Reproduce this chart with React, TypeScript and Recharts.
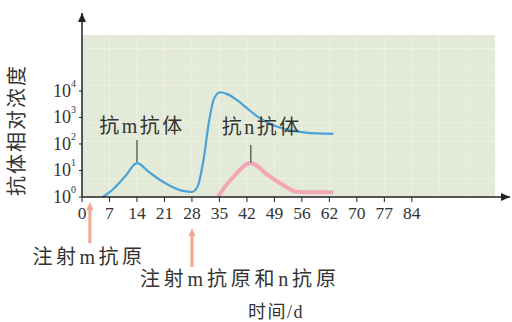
import React from 'react';
import {
  ComposedChart,
  Line,
  XAxis,
  YAxis,
  ReferenceArea,
  ReferenceLine,
  ReferenceDot,
} from 'recharts';

// ---- data ----
const xTicks = [0, 7, 14, 21, 28, 35, 42, 49, 56, 63, 70, 77, 84];
const xTickLabels = ['0', '7', '14', '21', '28', '35', '42', '49', '56', '62', '70', '77', '84'];
const yTicks = [0, 1, 2, 3, 4];
const yTickExponents = ['0', '1', '2', '3', '4'];

// anti-m antibody (log10 relative concentration)
const mDays = [5.3, 8, 11, 14, 17, 20, 23, 26, 28, 29.5, 31, 32.3, 33.6, 35.2, 37, 39.5, 42, 45, 48, 52, 57, 64];
const mLogConc = [0, 0.3, 0.78, 1.28, 0.95, 0.63, 0.38, 0.22, 0.19, 0.42, 1.45, 2.8, 3.7, 3.95, 3.88, 3.65, 3.35, 3.0, 2.75, 2.55, 2.43, 2.38];

// anti-n antibody
const nDays = [34.6, 36.2, 38.5, 43, 47, 51.2, 54.7, 59, 64];
const nLogConc = [0, 0.35, 0.75, 1.28, 0.86, 0.45, 0.2, 0.18, 0.18];

const gridDays = [7, 14, 21, 28, 35, 42, 49, 56, 63, 70, 77, 84, 91, 98];
const gridLevels = [0.7, 1.4, 2.1, 2.8, 3.5, 4.2, 4.9, 5.6];

const mData = mDays.map((d, i) => ({ day: d, v: mLogConc[i] }));
const nData = nDays.map((d, i) => ({ day: d, v: nLogConc[i] }));

// ---- layout constants ----
const X_MAX = 109;
const Y_MAX = 6.94;
const BG_X_MAX = 105.2;
const BG_Y_MAX = 6.11;

const TEXT = '#333333';
const FONT = "'Liberation Serif', 'Noto Sans CJK SC', serif";
const ARROW = '#f5a68e';

const textShape =
  (label: string, size: number, extra: Record<string, any> = {}) =>
  (props: any) => (
    <text
      x={props.cx}
      y={props.cy}
      textAnchor="middle"
      dominantBaseline="central"
      fontSize={size}
      fontFamily={FONT}
      fill={TEXT}
      {...extra}
    >
      {label}
    </text>
  );

const upArrowHead = (color: string, w = 4, h = 9) => (props: any) => (
  <polygon
    points={`${props.cx},${props.cy} ${props.cx - w},${props.cy + h} ${props.cx + w},${props.cy + h}`}
    fill={color}
  />
);

const rightArrowHead = (color: string) => (props: any) => (
  <polygon
    points={`${props.cx},${props.cy} ${props.cx - 9},${props.cy - 4} ${props.cx - 9},${props.cy + 4}`}
    fill={color}
  />
);

const YTick = (props: any) => {
  const { x, y, payload } = props;
  const idx = yTicks.indexOf(payload.value);
  return (
    <text x={x - 1} y={y + 6} textAnchor="end" fontFamily={FONT} fill={TEXT}>
      <tspan fontSize={18}>10</tspan>
      <tspan fontSize={10} dy={-10}>
        {yTickExponents[idx]}
      </tspan>
    </text>
  );
};

const XTick = (props: any) => {
  const { x, y, payload } = props;
  const idx = xTicks.indexOf(payload.value);
  return (
    <text x={x} y={y} dy={12} textAnchor="middle" fontSize={17.5} fontFamily={FONT} fill={TEXT}>
      {xTickLabels[idx]}
    </text>
  );
};

export default function App() {
  return (
    <div style={{ position: 'absolute', left: 0, top: 0, background: '#fff' }}>
      <ComposedChart
        width={512}
        height={322}
        margin={{ top: 13, right: 2, left: 32, bottom: 95 }}
      >
        <ReferenceArea
          x1={0}
          x2={BG_X_MAX}
          y1={0}
          y2={BG_Y_MAX}
          fill="#e3ead7"
          fillOpacity={1}
          stroke="none"
          ifOverflow="visible"
        />
        {gridDays.map((d) => (
          <ReferenceLine
            key={'gx' + d}
            segment={[
              { x: d, y: 0 },
              { x: d, y: BG_Y_MAX },
            ]}
            stroke="#eff0e0"
            strokeWidth={1}
            ifOverflow="visible"
          />
        ))}
        {gridLevels.map((l) => (
          <ReferenceLine
            key={'gy' + l}
            segment={[
              { x: 0, y: l },
              { x: BG_X_MAX, y: l },
            ]}
            stroke="#eff0e0"
            strokeWidth={1}
            ifOverflow="visible"
          />
        ))}
        <XAxis
          dataKey="day"
          type="number"
          domain={[0, X_MAX]}
          ticks={xTicks}
          allowDataOverflow
          height={30}
          axisLine={{ stroke: '#222', strokeWidth: 1.5 }}
          tickLine={{ stroke: '#222' }}
          tickSize={5}
          tickMargin={5}
          tick={<XTick />}
          interval={0}
        />
        <YAxis
          dataKey="v"
          type="number"
          domain={[0, Y_MAX]}
          ticks={yTicks}
          allowDataOverflow
          width={50}
          axisLine={{ stroke: '#222', strokeWidth: 1.5 }}
          tickLine={{ stroke: '#222' }}
          tickSize={3}
          tick={<YTick />}
          interval={0}
        />
        <Line
          data={nData}
          dataKey="v"
          type="monotone"
          stroke="#f2a7b7"
          strokeWidth={4}
          dot={false}
          isAnimationActive={false}
        />
        <Line
          data={mData}
          dataKey="v"
          type="monotone"
          stroke="#4aa3d8"
          strokeWidth={2.2}
          dot={false}
          isAnimationActive={false}
        />
        {/* axis arrow heads */}
        <ReferenceDot x={0} y={Y_MAX} r={0} ifOverflow="visible" shape={upArrowHead('#222')} />
        <ReferenceDot x={X_MAX} y={0} r={0} ifOverflow="visible" shape={rightArrowHead('#222')} />

        {/* curve labels */}
        <ReferenceLine
          segment={[
            { x: 14, y: 1.32 },
            { x: 14, y: 2.15 },
          ]}
          stroke="#444"
          strokeWidth={1.2}
          ifOverflow="visible"
        />
        <ReferenceLine
          segment={[
            { x: 43, y: 1.3 },
            { x: 43, y: 1.96 },
          ]}
          stroke="#444"
          strokeWidth={1.2}
          ifOverflow="visible"
        />
        <ReferenceDot x={15.3} y={2.68} r={0} ifOverflow="visible" shape={textShape('抗m抗体', 20, { letterSpacing: 2.5 })} />
        <ReferenceDot x={45.8} y={2.64} r={0} ifOverflow="visible" shape={textShape('抗n抗体', 20, { letterSpacing: 2.5 })} />

        {/* injection arrows */}
        <ReferenceLine
          segment={[
            { x: 2, y: -1.74 },
            { x: 2, y: -0.45 },
          ]}
          stroke={ARROW}
          strokeWidth={3}
          ifOverflow="visible"
        />
        <ReferenceDot x={2} y={-0.19} r={0} ifOverflow="visible" shape={upArrowHead(ARROW, 3.5, 8)} />
        <ReferenceLine
          segment={[
            { x: 28, y: -2.64 },
            { x: 28, y: -1.43 },
          ]}
          stroke={ARROW}
          strokeWidth={3}
          ifOverflow="visible"
        />
        <ReferenceDot x={28} y={-1.17} r={0} ifOverflow="visible" shape={upArrowHead(ARROW, 3.5, 8)} />

        <ReferenceDot x={1.8} y={-2.26} r={0} ifOverflow="visible" shape={textShape('注射m抗原', 20, { letterSpacing: 3.5 })} />
        <ReferenceDot x={40.2} y={-3.09} r={0} ifOverflow="visible" shape={textShape('注射m抗原和n抗原', 20, { letterSpacing: 3.8 })} />
        <ReferenceDot x={49.4} y={-4.34} r={0} ifOverflow="visible" shape={textShape('时间/d', 18, { letterSpacing: 1.5 })} />

        {/* y-axis title */}
        <ReferenceDot
          x={-16.5}
          y={2.53}
          r={0}
          ifOverflow="visible"
          shape={(p: any) => (
            <text
              x={p.cx}
              y={p.cy}
              textAnchor="middle"
              dominantBaseline="central"
              fontSize={20}
              letterSpacing={2}
              fontFamily={FONT}
              fill={TEXT}
              transform={`rotate(-90, ${p.cx}, ${p.cy})`}
            >
              抗体相对浓度
            </text>
          )}
        />
      </ComposedChart>
    </div>
  );
}
